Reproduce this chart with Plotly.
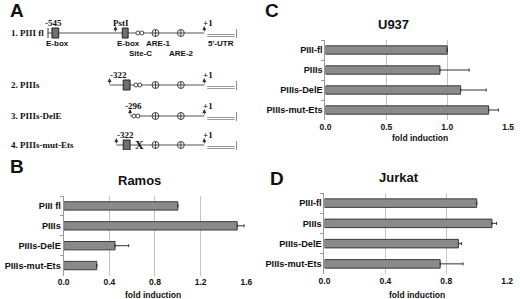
import plotly.graph_objects as go

# ---------------- data ----------------
cats_B = ["PIII fl", "PIIIs", "PIIIs-DelE", "PIIIs-mut-Ets"]
cats_CD = ["PIII-fl", "PIIIs", "PIIIs-DelE", "PIIIs-mut-Ets"]
ramos = [1.00, 1.52, 0.45, 0.29]
ramos_err = [0.0, 0.06, 0.12, 0.0]
u937 = [1.00, 0.94, 1.11, 1.34]
u937_err = [0.0, 0.24, 0.21, 0.08]
jurkat = [1.00, 1.10, 0.88, 0.76]
jurkat_err = [0.0, 0.03, 0.02, 0.15]

construct_labels = ["1. PIII fl", "2. PIIIs", "3. PIIIs-DelE", "4. PIIIs-mut-Ets"]
construct_start = ["-545", "-322", "-296", "-322"]
# diagram element positions (schematic units)
row_y = [33, 85, 116, 145]
row_begin = [43, 106, 127, 113]
ebox_pos = [[47, 54, 119, 125], [120, 127], [], [120, 127]]
sitec_pos = [137, 135, 133, None]
are_pos = [153, 179]
mut_pos = [None, None, None, 137]
tss_pos = 203
utr_span = [206, 234]
end_pos = 236
pst_pos = 112

W, H = 520, 299
SANS = "Liberation Sans Narrow, Liberation Sans, Arial"
SERIF = "Liberation Serif, Times New Roman"
bar_fill = "#8a8a8a"
bar_line = "#3c3c3c"
grid_c = "#c4c4c4"

def px_x(a, b):
    return [a / W, b / W]

def px_y(top, bottom):
    return [1 - bottom / H, 1 - top / H]

fig = go.Figure()

# ---------------- bar panels ----------------
panels = [
    ("x2", "y2", cats_B, ramos, ramos_err),
    ("x3", "y3", cats_CD, u937, u937_err),
    ("x4", "y4", cats_CD, jurkat, jurkat_err),
]
for xa, ya, cats, vals, err in panels:
    fig.add_trace(go.Bar(
        orientation="h", y=cats, x=vals, xaxis=xa, yaxis=ya, width=0.42,
        marker=dict(color=bar_fill, line=dict(color=bar_line, width=1)),
        error_x=dict(type="data", symmetric=False, array=err, arrayminus=[0] * len(err),
                     color="#333333", thickness=1, width=1.5),
        showlegend=False, hoverinfo="skip"))

def xax(domain, rng, dtick):
    return dict(domain=domain, range=rng, dtick=dtick, tick0=0, tickformat=".1f",
                showgrid=True, gridcolor=grid_c, gridwidth=1, zeroline=False,
                showline=False, ticks="", tickfont=dict(family=SANS, size=8.5, color="#111", weight="bold"),
                fixedrange=True)

def yax(domain, anchor, cats):
    return dict(domain=domain, anchor=anchor, range=[3.5, -0.5], type="category",
                categoryorder="array", categoryarray=cats,
                showline=True, linecolor="#999", linewidth=1, ticks="outside",
                tickson="boundaries", ticklen=3, tickcolor="#999", showgrid=False,
                tickfont=dict(family=SANS, size=9.2, color="#111", weight="bold"))

fig.update_layout(
    width=W, height=H, margin=dict(l=0, r=0, t=0, b=0),
    paper_bgcolor="white", plot_bgcolor="rgba(0,0,0,0)", bargap=0.5,
    xaxis=dict(domain=[0, 0.5], range=[0, 260], visible=False, fixedrange=True),
    yaxis=dict(domain=px_y(0, 150), range=[150, 0], visible=False, fixedrange=True, anchor="x"),
    xaxis2=dict(anchor="y2", **xax(px_x(59, 246), [0, 1.6], 0.4)),
    yaxis2=yax(px_y(196, 275.5), "x2", cats_B),
    xaxis3=dict(anchor="y3", **xax(px_x(327, 514), [0, 1.5], 0.5)),
    yaxis3=yax(px_y(40, 120), "x3", cats_CD),
    xaxis4=dict(anchor="y4", **xax(px_x(326, 513), [0, 1.2], 0.4)),
    yaxis4=yax(px_y(193, 274), "x4", cats_CD),
)

ann = []
def ptext(x, y, text, size, family=SANS, anchor="center", weight="bold"):
    ann.append(dict(x=x / W, y=1 - y / H, xref="paper", yref="paper", text=text,
                    showarrow=False, xanchor=anchor, yanchor="middle",
                    font=dict(family=family, size=size, color="#111", weight=weight)))

# panel letters
ptext(2, 11, "A", 19, family="Liberation Sans", anchor="left")
ptext(2, 166, "B", 19, family="Liberation Sans", anchor="left")
ptext(263, 11, "C", 19, family="Liberation Sans", anchor="left")
ptext(268, 178, "D", 19, family="Liberation Sans", anchor="left")
# titles
ptext(137, 180, "Ramos", 13)
ptext(397, 25, "U937", 13)
ptext(402, 177, "Jurkat", 13)
# axis titles
ptext(150, 295, "fold induction", 8.5)
ptext(424, 138, "fold induction", 8.5)
ptext(421, 295, "fold induction", 8.5)

# ---------------- diagram (panel A) ----------------
shapes = []
def dline(x0, y0, x1, y1, color="#333", w=1):
    shapes.append(dict(type="line", xref="x", yref="y", x0=x0, y0=y0, x1=x1, y1=y1,
                       line=dict(color=color, width=w)))

def darrow(x, y):
    ann.append(dict(x=x, y=y - 7, ax=x, ay=y, xref="x", yref="y", axref="x", ayref="y",
                    text="", showarrow=True, arrowhead=2, arrowsize=0.8, arrowwidth=1,
                    arrowcolor="#333"))

def dtext(x, y, text, size, family=SANS, anchor="center"):
    ann.append(dict(x=x, y=y, xref="x", yref="y", text=text, showarrow=False,
                    xanchor=anchor, yanchor="middle",
                    font=dict(family=family, size=size, color="#111", weight="bold")))

for i, y in enumerate(row_y):
    dtext(3, y, construct_labels[i], 9, family=SERIF, anchor="left")
    x0 = row_begin[i]
    dline(x0, y, tss_pos, y, color="#555")
    if i == 0:
        dline(x0, y - 5, x0, y + 5, color="#333")
        darrow(pst_pos, y)
        dtext(49, y - 10, construct_start[i], 9, family=SERIF)
        dtext(118, y - 10, "PstI", 9, family=SERIF)
    else:
        darrow(x0, y)
        dtext(x0 + 9 if i != 2 else x0 + 3, y - 10, construct_start[i], 9, family=SERIF)
    boxes = ebox_pos[i]
    for k in range(0, len(boxes), 2):
        shapes.append(dict(type="rect", xref="x", yref="y", x0=boxes[k], x1=boxes[k + 1],
                           y0=y - 5, y1=y + 5, fillcolor="#707070",
                           line=dict(color="#222", width=1)))
    if sitec_pos[i] is not None:
        sx = sitec_pos[i]
        for dx in (-2, 2):
            shapes.append(dict(type="circle", xref="x", yref="y", x0=sx + dx - 2, x1=sx + dx + 2,
                               y0=y - 2, y1=y + 2, fillcolor="white", line=dict(color="#444", width=1)))
    for ax_ in are_pos:
        shapes.append(dict(type="circle", xref="x", yref="y", x0=ax_ - 3.5, x1=ax_ + 3.5,
                           y0=y - 3.5, y1=y + 3.5, fillcolor="white", line=dict(color="#444", width=1)))
        dline(ax_ - 3.5, y, ax_ + 3.5, y, color="#444")
        dline(ax_, y - 3.5, ax_, y + 3.5, color="#444")
    if mut_pos[i] is not None:
        dtext(mut_pos[i], y, "X", 12, family=SERIF)
    darrow(tss_pos, y)
    dtext(tss_pos + 4, y - 10, "+1", 9, family=SERIF)
    dline(utr_span[0], y + 1.5, utr_span[1], y + 1.5, color="#9a9a9a")
    dline(utr_span[0], y + 3.5, utr_span[1], y + 3.5, color="#9a9a9a")
    dline(end_pos, y - 4, end_pos, y + 5, color="#888")

# diagram feature labels
dtext(53, 43, "E-box", 8)
dtext(125, 43, "E-box", 8)
dtext(156, 43, "ARE-1", 8)
dtext(220, 43, "5'-UTR", 8)
dtext(138, 53, "Site-C", 8)
dtext(180, 53, "ARE-2", 8)

fig.update_layout(annotations=ann, shapes=shapes)
fig.write_html("out.html", config={"displayModeBar": False, "staticPlot": True},
               post_script="document.body.style.margin='0';document.body.style.overflow='hidden';")
